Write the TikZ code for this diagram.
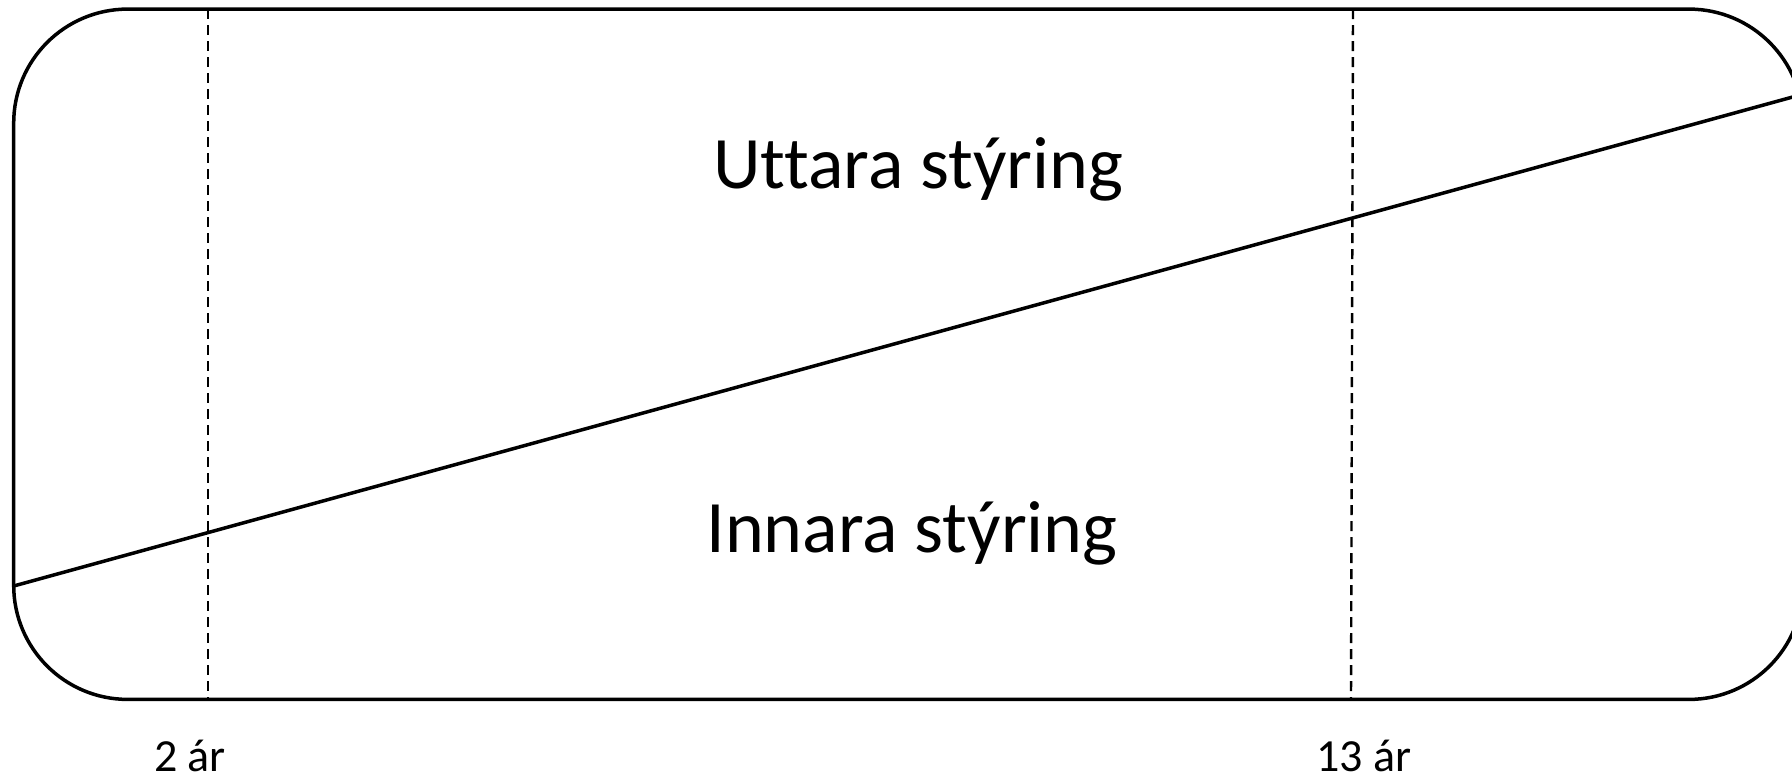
\documentclass[tikz,border=0pt]{standalone}
\usepackage{fontspec}
\setmainfont[Ligatures=NoCommon]{Carlito}
\begin{document}
\begin{tikzpicture}[x=1pt,y=-1pt,
  frame/.style={draw=black,line width=3.5pt,rounded corners=114pt},
  divider/.style={draw=black,line width=2.4pt,dash pattern=on 10pt off 6pt},
  slope/.style={draw=black,line width=3.5pt},
  bigtext/.style={font=\fontsize{74}{89}\selectfont,inner sep=0pt,anchor=base},
  agetext/.style={font=\fontsize{46}{55}\selectfont,inner sep=0pt,anchor=base}]
\useasboundingbox (0,0) rectangle (1792,781);
\clip (0,0) rectangle (1792,781);
\draw[frame] (13.7,9.1) rectangle (1803,699.4);
\coordinate (d1t) at (208,9.1);
\coordinate (d1b) at (208,699.4);
\coordinate (d2t) at (1353,9.1);
\coordinate (d2b) at (1351,699.4);
\draw[divider] (d1t) -- (d1b);
\draw[divider] (d2t) -- (d2b);
\coordinate (sl) at (13.7,586);
\coordinate (sr) at (1800,95);
\draw[slope] (sl) -- (sr);
\node[bigtext] (outer) at (918,189) {Uttara stýring};
\node[bigtext] (inner) at (912,552) {Innara stýring};
\node[agetext] (a2) at (190,771) {2 ár};
\node[agetext] (a13) at (1364,771) {13 ár};
\end{tikzpicture}
\end{document}
